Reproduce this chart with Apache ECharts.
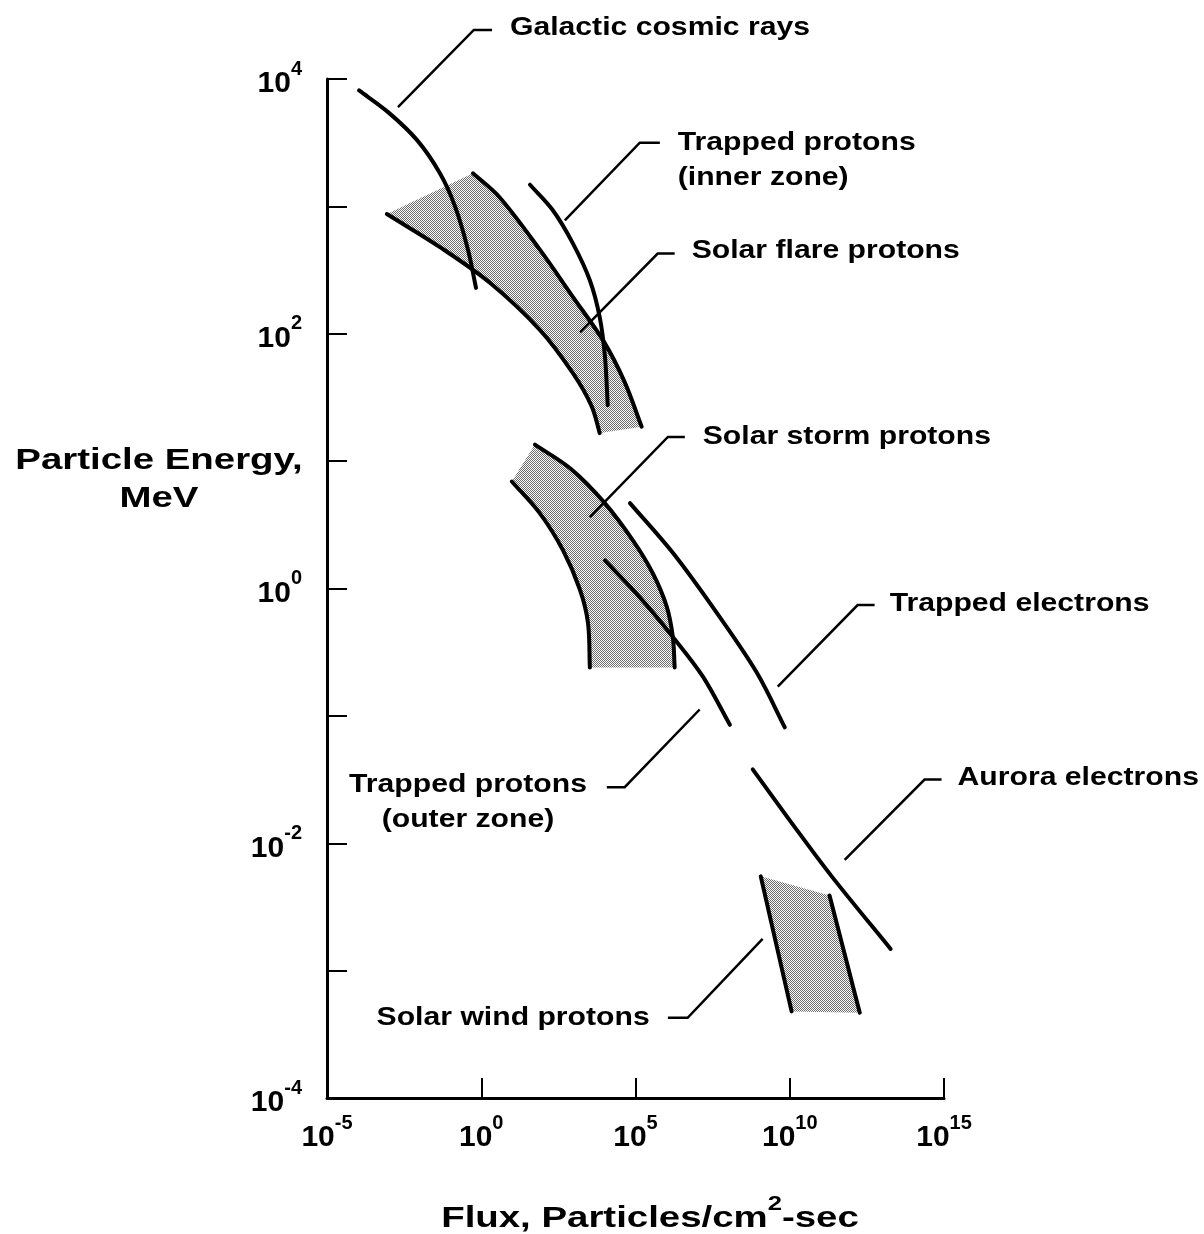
<!DOCTYPE html>
<html>
<head>
<meta charset="utf-8">
<script src="https://cdn.jsdelivr.net/npm/echarts@6/dist/echarts.min.js"></script>
<style>
html,body{margin:0;padding:0;background:#ffffff;}
#chart{width:1204px;height:1234px;}
</style>
</head>
<body>
<div id="chart"></div>
<script>
// All points are [log10(flux), log10(energy MeV)].
const galacticCosmicRays = [[-3.96,3.91],[-3.02,3.74],[-2.08,3.52],[-1.34,3.26],[-0.85,3.0],[-0.43,2.66],[-0.17,2.36]];
const trappedProtonsInner = [[1.58,3.17],[2.32,2.97],[2.97,2.71],[3.52,2.42],[3.84,2.13],[4.01,1.82],[4.10,1.44]];
const solarFlareUpper = [[-0.27,3.26],[0.60,3.07],[1.90,2.66],[2.97,2.29],[3.97,1.94],[4.65,1.62],[5.20,1.27]];
const solarFlareLower = [[-3.06,2.94],[-1.34,2.68],[0.28,2.40],[1.90,2.03],[2.97,1.69],[3.58,1.43],[3.84,1.22]];
const solarStormUpper = [[1.74,1.13],[2.90,0.94],[3.97,0.68],[4.91,0.38],[5.56,0.12],[6.01,-0.14],[6.21,-0.38],[6.27,-0.62]];
const solarStormLower = [[0.99,0.84],[1.90,0.59],[2.65,0.30],[3.20,-0.01],[3.46,-0.27],[3.52,-0.62]];
const trappedProtonsOuter = [[4.01,0.22],[5.14,-0.07],[6.21,-0.38],[7.18,-0.69],[8.06,-1.07]];
const trappedElectrons = [[4.82,0.67],[6.21,0.28],[7.63,-0.19],[8.93,-0.66],[9.84,-1.09]];
const auroraElectrons = [[8.80,-1.42],[10.0,-1.82],[11.36,-2.26],[13.27,-2.83]];
const solarWindLeft = [[9.06,-2.26],[10.06,-3.32]];
const solarWindRight = [[11.29,-2.41],[12.27,-3.33]];

// Tick exponents
const xTickExponents = [-5, 0, 5, 10, 15];
const yTickExponents = [-4, -3, -2, -1, 0, 1, 2, 3, 4];
const yLabelExponents = [-4, -2, 0, 2, 4];

// Callout labels and leader lines (log10 coordinates)
const labelTexts = ['Galactic cosmic rays', 'Trapped protons\n(inner zone)', 'Solar flare protons', 'Solar storm protons', 'Trapped electrons', 'Trapped protons\n(outer zone)', 'Aurora electrons', 'Solar wind protons'];
const labelAnchors = [[0.93,4.40],[6.37,3.36],[6.82,2.65],[7.18,1.19],[13.24,-0.12],[-0.43,-1.68],[15.44,-1.49],[5.46,-3.37]];
const labelAligns = ['left','left','left','left','left','center','left','right'];
const leaderLines = [
  [[-2.70,3.78],[-0.24,4.385],[0.35,4.385]],
  [[2.71,2.89],[5.14,3.50],[5.79,3.50]],
  [[3.20,2.01],[5.72,2.63],[6.27,2.63]],
  [[3.52,0.56],[6.05,1.19],[6.60,1.19]],
  [[9.61,-0.77],[12.20,-0.13],[12.75,-0.13]],
  [[7.08,-0.95],[4.65,-1.56],[4.07,-1.56]],
  [[11.78,-2.13],[14.37,-1.50],[14.92,-1.50]],
  [[9.12,-2.75],[6.69,-3.37],[6.05,-3.37]]
];

const toVal = p => [Math.pow(10, p[0]), Math.pow(10, p[1])];
const FONT = '"Liberation Sans", Arial, Helvetica, sans-serif';

// stipple pattern for shaded bands
const pat = document.createElement('canvas');
pat.width = 2; pat.height = 2;
(function(){
  const c = pat.getContext('2d');
  c.fillStyle = '#ffffff'; c.fillRect(0,0,2,2);
  c.fillStyle = '#6a6a6a'; c.fillRect(0,0,1,1); c.fillRect(1,1,1,1);
})();

// Smooth cubic segments (Catmull-Rom style) through points mapped by the axes
function smoothSegments(pts, api) {
  const P = pts.map(p => api.coord(toVal(p)));
  const n = P.length;
  const d = (a, b) => Math.hypot(b[0] - a[0], b[1] - a[1]);
  const segs = [];
  for (let i = 0; i < n - 1; i++) {
    const p0 = P[i - 1] || P[i], p1 = P[i], p2 = P[i + 1], p3 = P[i + 2] || P[i + 1];
    const d0 = d(p0, p1), d1 = d(p1, p2), d2 = d(p2, p3);
    const r1 = (d0 + d1) > 0 ? d1 / (d0 + d1) : 0.5;
    const r2 = (d1 + d2) > 0 ? d1 / (d1 + d2) : 0.5;
    const c1 = [p1[0] + (p2[0] - p0[0]) * r1 / 3, p1[1] + (p2[1] - p0[1]) * r1 / 3];
    const c2 = [p2[0] - (p3[0] - p1[0]) * r2 / 3, p2[1] - (p3[1] - p1[1]) * r2 / 3];
    segs.push([p1, c1, c2, p2]);
  }
  return segs;
}
const f = v => v.toFixed(2);
function segPath(segs, start) {
  let s = start ? 'M' + f(segs[0][0][0]) + ' ' + f(segs[0][0][1]) : 'L' + f(segs[0][0][0]) + ' ' + f(segs[0][0][1]);
  segs.forEach(g => {
    s += ' C' + f(g[1][0]) + ' ' + f(g[1][1]) + ' ' + f(g[2][0]) + ' ' + f(g[2][1]) + ' ' + f(g[3][0]) + ' ' + f(g[3][1]);
  });
  return s;
}
const reverseSegs = segs => segs.slice().reverse().map(g => [g[3], g[2], g[1], g[0]]);

function bandSeries(upper, lower) {
  return {
    type: 'custom',
    silent: true,
    clip: false,
    z: 1,
    data: upper.concat(lower).map(toVal),
    encode: {x: 0, y: 1},
    renderItem: function (params, api) {
      if (params.dataIndex !== 0) return null;
      const d = segPath(smoothSegments(upper, api), true) + ' ' + segPath(reverseSegs(smoothSegments(lower, api)), false) + ' Z';
      return {type: 'path', shape: {pathData: d}, style: {fill: {image: pat, repeat: 'repeat'}, stroke: null}};
    }
  };
}

function curveSeries(pts) {
  return {
    type: 'custom',
    silent: true,
    clip: false,
    z: 3,
    data: pts.map(toVal),
    encode: {x: 0, y: 1},
    renderItem: function (params, api) {
      if (params.dataIndex !== 0) return null;
      const d = segPath(smoothSegments(pts, api), true);
      return {type: 'path', shape: {pathData: d}, style: {fill: null, stroke: '#000', lineWidth: 4, lineCap: 'round', lineJoin: 'round'}};
    }
  };
}

const expFmt = v => {
  const e = Math.round(Math.log10(v));
  return '{b|10}{s|' + e + '}';
};
const tickRich = {
  b: {fontSize: 30, fontWeight: 'bold', fontFamily: FONT, color: '#000', lineHeight: 40, verticalAlign: 'bottom'},
  s: {fontSize: 20, fontWeight: 'bold', fontFamily: FONT, color: '#000', verticalAlign: 'top'}
};

const chart = echarts.init(document.getElementById('chart'), null, {renderer: 'canvas'});
chart.setOption({
  backgroundColor: '#ffffff',
  animation: false,
  grid: {left: 327, top: 79, width: 617, height: 1019, containLabel: false},
  xAxis: {
    type: 'log', logBase: 10, min: Math.pow(10, xTickExponents[0]), max: Math.pow(10, xTickExponents[xTickExponents.length - 1]),
    interval: 5, splitNumber: 4,
    axisLine: {onZero: false, lineStyle: {color: '#000', width: 3}},
    axisTick: {inside: true, length: 20, lineStyle: {color: '#000', width: 2}},
    minorTick: {show: false},
    splitLine: {show: false},
    axisLabel: {margin: 15, formatter: expFmt, rich: tickRich}
  },
  yAxis: {
    type: 'log', logBase: 10, min: Math.pow(10, yTickExponents[0]), max: Math.pow(10, yTickExponents[yTickExponents.length - 1]),
    interval: 1, splitNumber: 8,
    axisLine: {onZero: false, lineStyle: {color: '#000', width: 3}},
    axisTick: {inside: true, length: 20, lineStyle: {color: '#000', width: 2}},
    minorTick: {show: false},
    splitLine: {show: false},
    axisLabel: {
      margin: 25,
      formatter: v => {
        const e = Math.round(Math.log10(v));
        return yLabelExponents.indexOf(e) >= 0 ? expFmt(v) : '';
      },
      rich: tickRich
    }
  },
  graphic: [
    {type: 'text', x: 159, y: 480, scaleX: 1.28, style: {text: 'Particle Energy,\nMeV', font: 'bold 30px ' + FONT, fill: '#000', align: 'center', verticalAlign: 'middle', lineHeight: 38}},
    {type: 'text', x: 650, y: 1214, scaleX: 1.28, style: {
      text: '{t|Flux, Particles/cm}{u|2}{t|-sec}', align: 'center', verticalAlign: 'middle',
      rich: {
        t: {fontSize: 30, fontWeight: 'bold', fontFamily: FONT, fill: '#000', color: '#000', lineHeight: 40, verticalAlign: 'bottom'},
        u: {fontSize: 20, fontWeight: 'bold', fontFamily: FONT, fill: '#000', color: '#000', verticalAlign: 'top'}
      }
    }}
  ],
  series: [
    bandSeries(solarFlareUpper, solarFlareLower),
    bandSeries(solarStormUpper, solarStormLower),
    bandSeries(solarWindLeft, solarWindRight),
    curveSeries(galacticCosmicRays),
    curveSeries(trappedProtonsInner),
    curveSeries(solarFlareUpper),
    curveSeries(solarFlareLower),
    curveSeries(solarStormUpper),
    curveSeries(solarStormLower),
    curveSeries(trappedProtonsOuter),
    curveSeries(trappedElectrons),
    curveSeries(auroraElectrons),
    curveSeries(solarWindLeft),
    curveSeries(solarWindRight),
    {
      type: 'custom',
      silent: true,
      clip: false,
      z: 4,
      data: labelAnchors.map(toVal),
      encode: {x: 0, y: 1},
      renderItem: function (params, api) {
        const i = params.dataIndex;
        const pts = leaderLines[i].map(p => api.coord(toVal(p)));
        const a = api.coord(toVal(labelAnchors[i]));
        return {
          type: 'group',
          children: [
            {type: 'polyline', shape: {points: pts}, style: {stroke: '#000', lineWidth: 2.5, fill: null}},
            {type: 'text', x: a[0], y: a[1], scaleX: 1.16, style: {text: labelTexts[i], font: 'bold 26px ' + FONT, fill: '#000', align: labelAligns[i], verticalAlign: 'middle', lineHeight: 35}}
          ]
        };
      }
    }
  ]
});
</script>
</body>
</html>
